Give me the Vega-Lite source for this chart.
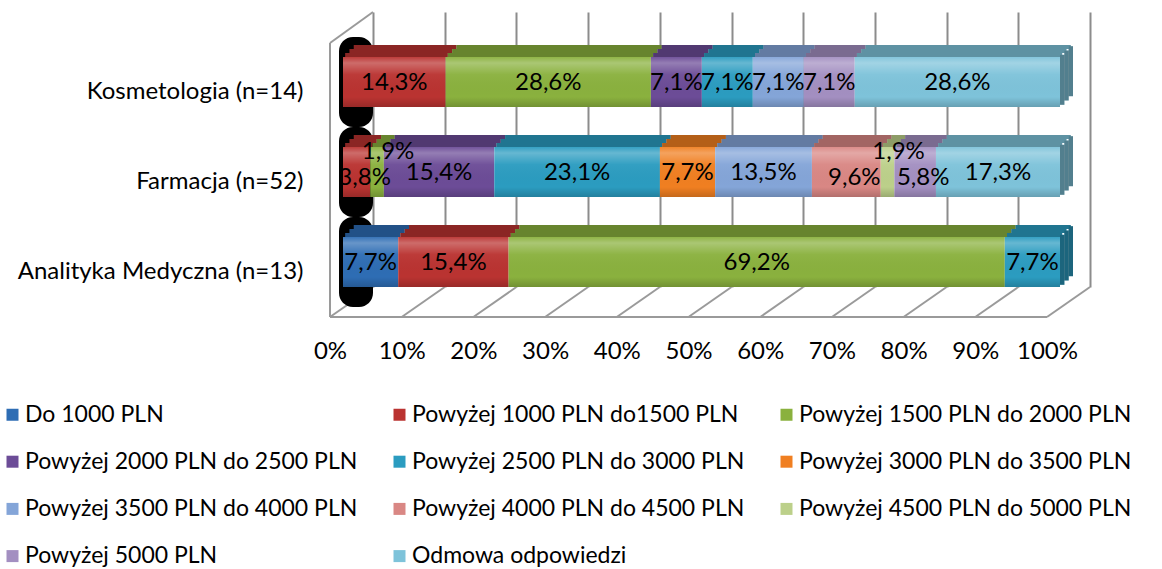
{
  "$schema": "https://vega.github.io/schema/vega-lite/v6.json",
  "width": 717,
  "height": 275,
  "autosize": {"type": "none"},
  "padding": {"left": 343, "top": 12, "right": 102, "bottom": 282},
  "background": "white",
  "config": {
    "locale": {"number": {"decimal": ",", "thousands": " ", "grouping": [3], "currency": ["", " zł"]}},
    "font": "Lato",
    "view": {"stroke": null},
    "axisX": {"domain": false, "ticks": false, "grid": true, "gridColor": "#8c8c8c", "gridWidth": 2, "tickOffset": 30, "labelOffset": -43, "labelPadding": 52, "labelFontSize": 24, "labelFont": "Lato", "labelColor": "#000000", "title": null, "labelFlush": false, "labelOverlap": false},
    "axisY": {"domain": false, "ticks": false, "grid": false, "labelPadding": 40, "labelOffset": 10, "labelFontSize": 24, "labelFont": "Lato", "labelColor": "#000000", "title": null, "labelLimit": 0}
  },
  "datasets": {
    "main": [
      {"cat": "Kosmetologia (n=14)", "series": "Powyżej 1000 PLN do1500 PLN", "rank": 2, "share": 0.143},
      {"cat": "Kosmetologia (n=14)", "series": "Powyżej 1500 PLN do 2000 PLN", "rank": 3, "share": 0.286},
      {"cat": "Kosmetologia (n=14)", "series": "Powyżej 2000 PLN do 2500 PLN", "rank": 4, "share": 0.071},
      {"cat": "Kosmetologia (n=14)", "series": "Powyżej 2500 PLN do 3000 PLN", "rank": 5, "share": 0.071},
      {"cat": "Kosmetologia (n=14)", "series": "Powyżej 3500 PLN do 4000 PLN", "rank": 7, "share": 0.071},
      {"cat": "Kosmetologia (n=14)", "series": "Powyżej 5000 PLN", "rank": 10, "share": 0.071},
      {"cat": "Kosmetologia (n=14)", "series": "Odmowa odpowiedzi", "rank": 11, "share": 0.286},
      {"cat": "Farmacja (n=52)", "series": "Powyżej 1000 PLN do1500 PLN", "rank": 2, "share": 0.038},
      {"cat": "Farmacja (n=52)", "series": "Powyżej 1500 PLN do 2000 PLN", "rank": 3, "share": 0.019},
      {"cat": "Farmacja (n=52)", "series": "Powyżej 2000 PLN do 2500 PLN", "rank": 4, "share": 0.154},
      {"cat": "Farmacja (n=52)", "series": "Powyżej 2500 PLN do 3000 PLN", "rank": 5, "share": 0.231},
      {"cat": "Farmacja (n=52)", "series": "Powyżej 3000 PLN do 3500 PLN", "rank": 6, "share": 0.077},
      {"cat": "Farmacja (n=52)", "series": "Powyżej 3500 PLN do 4000 PLN", "rank": 7, "share": 0.135},
      {"cat": "Farmacja (n=52)", "series": "Powyżej 4000 PLN do 4500 PLN", "rank": 8, "share": 0.096},
      {"cat": "Farmacja (n=52)", "series": "Powyżej 4500 PLN do 5000 PLN", "rank": 9, "share": 0.019},
      {"cat": "Farmacja (n=52)", "series": "Powyżej 5000 PLN", "rank": 10, "share": 0.058},
      {"cat": "Farmacja (n=52)", "series": "Odmowa odpowiedzi", "rank": 11, "share": 0.173},
      {"cat": "Analityka Medyczna (n=13)", "series": "Do 1000 PLN", "rank": 1, "share": 0.077},
      {"cat": "Analityka Medyczna (n=13)", "series": "Powyżej 1000 PLN do1500 PLN", "rank": 2, "share": 0.154},
      {"cat": "Analityka Medyczna (n=13)", "series": "Powyżej 1500 PLN do 2000 PLN", "rank": 3, "share": 0.692},
      {"cat": "Analityka Medyczna (n=13)", "series": "Powyżej 2500 PLN do 3000 PLN", "rank": 5, "share": 0.077}
    ],
    "cats": [
      {"cat": "Kosmetologia (n=14)"},
      {"cat": "Farmacja (n=52)"},
      {"cat": "Analityka Medyczna (n=13)"}
    ],
    "ticks": [
      {"t": 0}, {"t": 0.1}, {"t": 0.2}, {"t": 0.3}, {"t": 0.4}, {"t": 0.5},
      {"t": 0.6}, {"t": 0.7}, {"t": 0.8}, {"t": 0.9}, {"t": 1}
    ]
  },
  "layer": [
    {
      "data": {"name": "ticks"},
      "mark": {"type": "rule", "color": "#9a9a9a", "strokeWidth": 2, "xOffset": 30, "x2Offset": -13},
      "encoding": {
        "x": {"field": "t", "type": "quantitative"},
        "x2": {"field": "t"},
        "y": {"value": 275},
        "y2": {"value": 305}
      }
    },
    {
      "data": {"name": "ticks"},
      "transform": [{"filter": "datum.t == 0"}],
      "mark": {"type": "rule", "color": "#9a9a9a", "strokeWidth": 2, "xOffset": -13, "x2Offset": 704},
      "encoding": {
        "x": {"field": "t", "type": "quantitative"},
        "x2": {"field": "t"},
        "y": {"value": 305},
        "y2": {"value": 305}
      }
    },
    {
      "data": {"name": "ticks"},
      "transform": [{"filter": "datum.t == 0"}],
      "mark": {"type": "rule", "color": "#9a9a9a", "strokeWidth": 2, "xOffset": -13, "x2Offset": -13},
      "encoding": {
        "x": {"field": "t", "type": "quantitative"},
        "x2": {"field": "t"},
        "y": {"value": 31},
        "y2": {"value": 305}
      }
    },
    {
      "data": {"name": "ticks"},
      "transform": [{"filter": "datum.t == 0"}],
      "mark": {"type": "rule", "color": "#9a9a9a", "strokeWidth": 2, "xOffset": 30, "x2Offset": -13},
      "encoding": {
        "x": {"field": "t", "type": "quantitative"},
        "x2": {"field": "t"},
        "y": {"value": 0},
        "y2": {"value": 31}
      }
    },
    {
      "data": {"name": "cats"},
      "mark": {"type": "bar", "color": "#000000", "height": {"band": 1.8}, "cornerRadius": 14, "xOffset": -4, "x2Offset": 30},
      "encoding": {
        "y": {"field": "cat", "type": "nominal"},
        "x": {"datum": 0, "type": "quantitative"},
        "x2": {"datum": 0}
      }
    },
    {
      "data": {"name": "main"},
      "mark": {"type": "bar", "height": 4, "yOffset": -27, "xOffset": 2.2, "x2Offset": 2.2},
      "encoding": {
        "y": {"field": "cat", "type": "nominal"},
        "x": {"field": "share", "type": "quantitative", "stack": "normalize"},
        "color": {"field": "series", "type": "nominal"},
        "order": {"field": "rank", "type": "quantitative"}
      }
    },
    {
      "data": {"name": "main"},
      "mark": {"type": "bar", "height": 4, "yOffset": -31, "xOffset": 6.5, "x2Offset": 6.5},
      "encoding": {
        "y": {"field": "cat", "type": "nominal"},
        "x": {"field": "share", "type": "quantitative", "stack": "normalize"},
        "color": {"field": "series", "type": "nominal"},
        "order": {"field": "rank", "type": "quantitative"}
      }
    },
    {
      "data": {"name": "main"},
      "mark": {"type": "bar", "height": 4, "yOffset": -35, "xOffset": 10.8, "x2Offset": 10.8},
      "encoding": {
        "y": {"field": "cat", "type": "nominal"},
        "x": {"field": "share", "type": "quantitative", "stack": "normalize"},
        "color": {"field": "series", "type": "nominal"},
        "order": {"field": "rank", "type": "quantitative"}
      }
    },
    {
      "data": {"name": "cats"},
      "mark": {"type": "bar", "height": 4, "yOffset": -27, "xOffset": 2.2, "x2Offset": 2.2, "color": "#000000", "opacity": 0.25},
      "encoding": {"y": {"field": "cat", "type": "nominal"}, "x": {"datum": 0, "type": "quantitative"}, "x2": {"datum": 1}}
    },
    {
      "data": {"name": "cats"},
      "mark": {"type": "bar", "height": 4, "yOffset": -31, "xOffset": 6.5, "x2Offset": 6.5, "color": "#000000", "opacity": 0.25},
      "encoding": {"y": {"field": "cat", "type": "nominal"}, "x": {"datum": 0, "type": "quantitative"}, "x2": {"datum": 1}}
    },
    {
      "data": {"name": "cats"},
      "mark": {"type": "bar", "height": 4, "yOffset": -35, "xOffset": 10.8, "x2Offset": 10.8, "color": "#000000", "opacity": 0.25},
      "encoding": {"y": {"field": "cat", "type": "nominal"}, "x": {"datum": 0, "type": "quantitative"}, "x2": {"datum": 1}}
    },
    {
      "data": {"name": "main"},
      "transform": [{"filter": "datum.rank == 11 || (datum.cat == 'Analityka Medyczna (n=13)' && datum.rank == 5)"}],
      "mark": {"type": "bar", "xOffset": 0, "x2Offset": 4.4, "yOffset": -2.2},
      "encoding": {"y": {"field": "cat", "type": "nominal"}, "x": {"datum": 1, "type": "quantitative"}, "x2": {"datum": 1}, "color": {"field": "series", "type": "nominal"}}
    },
    {
      "data": {"name": "main"},
      "transform": [{"filter": "datum.rank == 11 || (datum.cat == 'Analityka Medyczna (n=13)' && datum.rank == 5)"}],
      "mark": {"type": "bar", "xOffset": 4.3, "x2Offset": 8.7, "yOffset": -6.5},
      "encoding": {"y": {"field": "cat", "type": "nominal"}, "x": {"datum": 1, "type": "quantitative"}, "x2": {"datum": 1}, "color": {"field": "series", "type": "nominal"}}
    },
    {
      "data": {"name": "main"},
      "transform": [{"filter": "datum.rank == 11 || (datum.cat == 'Analityka Medyczna (n=13)' && datum.rank == 5)"}],
      "mark": {"type": "bar", "xOffset": 8.6, "x2Offset": 13, "yOffset": -10.8},
      "encoding": {"y": {"field": "cat", "type": "nominal"}, "x": {"datum": 1, "type": "quantitative"}, "x2": {"datum": 1}, "color": {"field": "series", "type": "nominal"}}
    },
    {
      "data": {"name": "cats"},
      "mark": {"type": "bar", "xOffset": 0, "x2Offset": 4.4, "yOffset": -2.2, "color": "#000000", "opacity": 0.35},
      "encoding": {"y": {"field": "cat", "type": "nominal"}, "x": {"datum": 1, "type": "quantitative"}, "x2": {"datum": 1}}
    },
    {
      "data": {"name": "cats"},
      "mark": {"type": "bar", "xOffset": 4.3, "x2Offset": 8.7, "yOffset": -6.5, "color": "#000000", "opacity": 0.35},
      "encoding": {"y": {"field": "cat", "type": "nominal"}, "x": {"datum": 1, "type": "quantitative"}, "x2": {"datum": 1}}
    },
    {
      "data": {"name": "cats"},
      "mark": {"type": "bar", "xOffset": 8.6, "x2Offset": 13, "yOffset": -10.8, "color": "#000000", "opacity": 0.35},
      "encoding": {"y": {"field": "cat", "type": "nominal"}, "x": {"datum": 1, "type": "quantitative"}, "x2": {"datum": 1}}
    },
    {
      "data": {"name": "main"},
      "mark": {"type": "bar"},
      "encoding": {
        "y": {
          "field": "cat", "type": "nominal",
          "scale": {"domain": ["Kosmetologia (n=14)", "Farmacja (n=52)", "Analityka Medyczna (n=13)"], "paddingInner": 0.4444, "paddingOuter": 0.25, "align": 1}
        },
        "x": {
          "field": "share", "type": "quantitative", "stack": "normalize",
          "scale": {"domain": [0, 1]},
          "axis": {"format": ".0%", "values": [0, 0.1, 0.2, 0.3, 0.4, 0.5, 0.6, 0.7, 0.8, 0.9, 1]}
        },
        "color": {
          "field": "series", "type": "nominal",
          "scale": {
            "domain": ["Do 1000 PLN", "Powyżej 1000 PLN do1500 PLN", "Powyżej 1500 PLN do 2000 PLN", "Powyżej 2000 PLN do 2500 PLN", "Powyżej 2500 PLN do 3000 PLN", "Powyżej 3000 PLN do 3500 PLN", "Powyżej 3500 PLN do 4000 PLN", "Powyżej 4000 PLN do 4500 PLN", "Powyżej 4500 PLN do 5000 PLN", "Powyżej 5000 PLN", "Odmowa odpowiedzi"],
            "range": ["#2E6DB4", "#BA3331", "#8AB13E", "#6C4C97", "#2B9CC0", "#F07F21", "#84A5D8", "#D98784", "#BCD08A", "#A38FC1", "#7EC3DA"]
          },
          "legend": {
            "title": null, "orient": "none", "direction": "horizontal", "legendX": -342, "legendY": 391,
            "columns": 3, "gridAlign": "all", "columnPadding": 30, "rowPadding": 23.2,
            "symbolType": "square", "symbolSize": 144, "symbolStrokeWidth": 0,
            "labelFontSize": 23, "labelFont": "Lato", "labelColor": "#000000", "labelOffset": 1, "labelLimit": 0, "padding": 0
          }
        },
        "order": {"field": "rank", "type": "quantitative"}
      }
    },
    {
      "data": {"name": "cats"},
      "mark": {
        "type": "bar",
        "color": {"gradient": "linear", "x1": 0, "y1": 0, "x2": 0, "y2": 1, "stops": [
          {"offset": 0, "color": "rgba(255,255,255,0.05)"},
          {"offset": 0.12, "color": "rgba(255,255,255,0.28)"},
          {"offset": 0.35, "color": "rgba(255,255,255,0.04)"},
          {"offset": 0.8, "color": "rgba(0,0,0,0)"},
          {"offset": 1, "color": "rgba(0,0,0,0.18)"}
        ]}
      },
      "encoding": {"y": {"field": "cat", "type": "nominal"}, "x": {"datum": 0, "type": "quantitative"}, "x2": {"datum": 1}}
    },
    {
      "data": {"name": "main"},
      "mark": {"type": "text", "font": "Lato", "fontSize": 24, "color": "#000000", "dy": 1},
      "encoding": {
        "y": {"field": "cat", "type": "nominal"},
        "x": {"field": "share", "type": "quantitative", "stack": "normalize", "bandPosition": 0.5},
        "detail": {"field": "series"},
        "order": {"field": "rank", "type": "quantitative"},
        "text": {"condition": {"test": "!(datum.cat == 'Farmacja (n=52)' && (datum.rank == 2 || datum.rank == 3 || datum.rank == 8 || datum.rank == 9 || datum.rank == 10))", "field": "share", "format": ".1%"}, "value": ""}
      }
    },
    {
      "data": {"name": "main"},
      "mark": {"type": "text", "font": "Lato", "fontSize": 24, "color": "#000000", "dy": -20, "dx": 11},
      "encoding": {
        "y": {"field": "cat", "type": "nominal"},
        "x": {"field": "share", "type": "quantitative", "stack": "normalize", "bandPosition": 0.5},
        "detail": {"field": "series"},
        "order": {"field": "rank", "type": "quantitative"},
        "text": {"condition": {"test": "datum.cat == 'Farmacja (n=52)' && (datum.rank == 3 || datum.rank == 9)", "field": "share", "format": ".1%"}, "value": ""}
      }
    },
    {
      "data": {"name": "main"},
      "mark": {"type": "text", "font": "Lato", "fontSize": 24, "color": "#000000", "dy": 6, "dx": 8},
      "encoding": {
        "y": {"field": "cat", "type": "nominal"},
        "x": {"field": "share", "type": "quantitative", "stack": "normalize", "bandPosition": 0.5},
        "detail": {"field": "series"},
        "order": {"field": "rank", "type": "quantitative"},
        "text": {"condition": {"test": "datum.cat == 'Farmacja (n=52)' && (datum.rank == 2 || datum.rank == 8 || datum.rank == 10)", "field": "share", "format": ".1%"}, "value": ""}
      }
    }
  ]
}
